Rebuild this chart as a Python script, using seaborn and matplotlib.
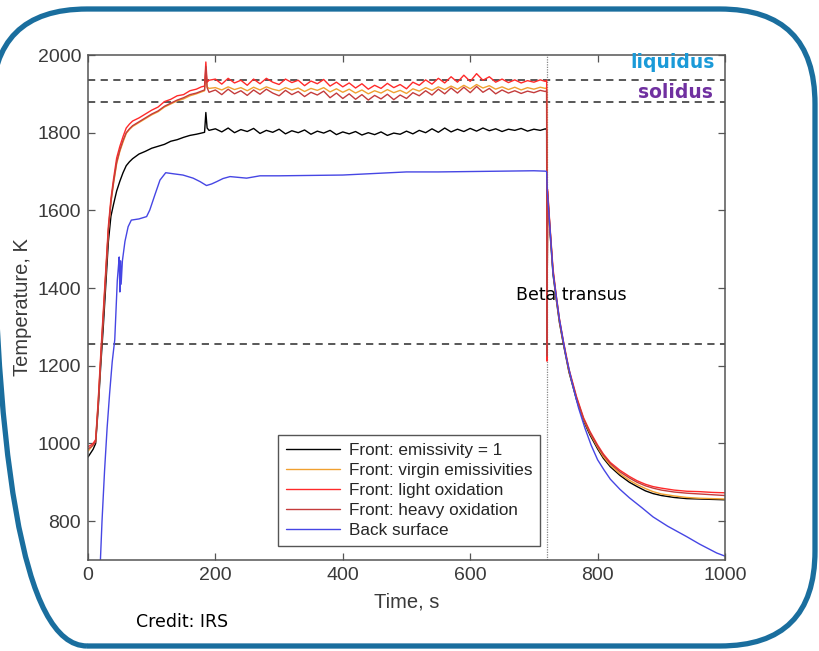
import numpy as np
import pandas as pd
import matplotlib.pyplot as plt
import matplotlib as mpl
import seaborn as sns
from matplotlib.patches import FancyBboxPatch

# time axis shared by the four front-surface series
t_front = [0, 4, 8, 12, 16, 20, 24, 28, 32, 36, 40, 45, 50, 55, 60, 65, 70, 80, 90, 100,
           110, 120, 130, 140, 150, 160, 170, 178, 183, 185, 187, 190,
           200, 210, 220, 230, 240, 250, 260, 270, 280, 290, 300, 310, 320, 330, 340, 350,
           360, 370, 380, 390, 400, 410, 420, 430, 440, 450, 460, 470, 480, 490, 500, 510,
           520, 530, 540, 550, 560, 570, 580, 590, 600, 610, 620, 630, 640, 650, 660, 670,
           680, 690, 700, 710, 718,
           720, 720.5, 721.5, 725, 730, 735, 740, 746, 755, 767, 778, 788, 800, 809, 820,
           835, 850, 862, 875, 887, 900, 920, 940, 960, 980, 1000]

front_black = [965, 975, 985, 1000, 1090, 1200, 1300, 1410, 1520, 1585, 1615, 1650, 1675, 1697, 1715, 1725, 1733, 1745, 1752, 1760,
               1765, 1770, 1778, 1782, 1788, 1793, 1796, 1799, 1801, 1852, 1812, 1806,
               1810, 1802, 1812, 1800, 1808, 1803, 1811, 1798, 1806, 1801, 1809, 1797, 1805, 1800, 1807, 1796,
               1804, 1799, 1806, 1795, 1802, 1797, 1803, 1794, 1800, 1795, 1802, 1793, 1799, 1796, 1804, 1797,
               1806, 1800, 1810, 1801, 1812, 1802, 1809, 1803, 1811, 1804, 1812, 1805, 1810, 1803, 1809, 1806,
               1811, 1804, 1809, 1806, 1810,
               1808, 1215, 1640, 1550, 1435, 1372, 1312, 1258, 1184, 1112, 1058, 1022, 986, 962, 940,
               918, 900, 889, 878, 871, 866, 861, 858, 857, 856, 855]

front_virgin = [980, 988, 996, 1006, 1105, 1220, 1330, 1440, 1550, 1620, 1668, 1720, 1752, 1776, 1798, 1808, 1816, 1826, 1836, 1846,
                1854, 1866, 1874, 1882, 1887, 1895, 1900, 1905, 1908, 1960, 1918, 1914,
                1916, 1910, 1918, 1911, 1916, 1908, 1917, 1910, 1918, 1912, 1908, 1916, 1910, 1915, 1906, 1914,
                1909, 1916, 1905, 1913, 1904, 1912, 1902, 1910, 1900, 1908, 1902, 1911, 1903, 1909, 1901, 1913,
                1907, 1916, 1909, 1918, 1911, 1920, 1912, 1922, 1913, 1924, 1915, 1921, 1912, 1918, 1911, 1917,
                1910, 1916, 1912, 1917, 1914,
                1916, 1218, 1648, 1558, 1442, 1376, 1316, 1262, 1187, 1115, 1061, 1026, 990, 966, 944,
                922, 905, 894, 884, 876, 870, 865, 861, 859, 858, 857]

front_light = [992, 995, 1000, 1010, 1110, 1230, 1340, 1450, 1560, 1630, 1680, 1735, 1765, 1790, 1812, 1822, 1830, 1838, 1848, 1858,
               1866, 1880, 1886, 1895, 1898, 1908, 1912, 1918, 1920, 1982, 1930, 1935,
               1938, 1925, 1940, 1928, 1935, 1922, 1938, 1926, 1940, 1930, 1924, 1938, 1929, 1935, 1921, 1933,
               1926, 1937, 1920, 1930, 1918, 1928, 1915, 1926, 1912, 1922, 1914, 1927, 1916, 1924, 1913, 1930,
               1922, 1936, 1925, 1940, 1928, 1944, 1930, 1948, 1932, 1952, 1935, 1944, 1930, 1938, 1929, 1936,
               1928, 1934, 1930, 1936, 1932,
               1935, 1212, 1655, 1565, 1450, 1382, 1322, 1266, 1192, 1120, 1066, 1031, 996, 973, 951,
               931, 915, 904, 895, 889, 885, 880, 877, 876, 874, 873]

front_heavy = [986, 990, 996, 1004, 1100, 1215, 1325, 1438, 1548, 1622, 1672, 1724, 1755, 1780, 1800, 1810, 1818, 1828, 1838, 1848,
               1856, 1868, 1876, 1884, 1890, 1898, 1902, 1907, 1910, 1970, 1916, 1904,
               1910, 1898, 1912, 1900, 1908, 1896, 1910, 1899, 1912, 1902, 1895, 1909, 1898, 1906, 1893, 1904,
               1897, 1907, 1890, 1902, 1888, 1900, 1886, 1898, 1884, 1896, 1887, 1899, 1885, 1897, 1888, 1903,
               1895, 1908, 1897, 1912, 1900, 1915, 1902, 1917, 1903, 1919, 1904, 1914, 1900, 1910, 1902, 1908,
               1901, 1907, 1903, 1909, 1906,
               1908, 1225, 1650, 1560, 1444, 1378, 1318, 1262, 1189, 1117, 1063, 1028, 993, 970, 948,
               927, 911, 900, 891, 885, 880, 875, 872, 870, 868, 866]

# back surface
t_back = [18, 22, 26, 30, 34, 38, 42, 46, 48, 49, 50, 51, 52, 54, 58, 63, 68, 80, 92, 97,
          105, 113, 122, 135, 149, 165, 176, 186, 194, 202, 212, 223, 236, 249, 270, 300, 350, 400,
          450, 500, 550, 600, 650, 700, 718,
          720, 721, 725, 730, 740, 750, 760, 770, 780, 790, 800, 810, 820, 835, 850, 870, 887,
          910, 940, 960, 987, 1000]
back = [640, 800, 930, 1040, 1130, 1210, 1267, 1420, 1460, 1480, 1390, 1470, 1410, 1470, 1520, 1558, 1575, 1578, 1584, 1601,
        1640, 1678, 1697, 1694, 1691, 1683, 1674, 1664, 1668, 1674, 1682, 1687, 1685, 1683, 1689, 1689, 1690, 1691,
        1695, 1699, 1699, 1700, 1701, 1702, 1701,
        1700, 1650, 1560, 1440, 1320, 1228, 1156, 1092, 1040, 995, 958, 932, 908, 882, 860, 834, 811,
        787, 760, 741, 718, 710]

labels = ['Front: emissivity = 1', 'Front: virgin emissivities', 'Front: light oxidation',
          'Front: heavy oxidation', 'Back surface']
colors = ['#000000', '#f0a030', '#ff2a2a', '#c43c3c', '#4646e4']

liquidus = 1935
solidus = 1878
beta_transus = 1256
t_end_heat = 720

frames = []
for lab, vals in zip(labels[:4], [front_black, front_virgin, front_light, front_heavy]):
    frames.append(pd.DataFrame({'t': t_front, 'T': vals, 'series': lab}))
frames.append(pd.DataFrame({'t': t_back, 'T': back, 'series': labels[4]}))
df = pd.concat(frames, ignore_index=True)

sns.set_style('white')
plt.rcParams['font.family'] = ['Liberation Sans', 'DejaVu Sans']

fig = plt.figure(figsize=(8.19, 6.51), dpi=100)
ax = fig.add_axes([88/819, 1 - 560/651, 637/819, 505/651])

sns.lineplot(data=df, x='t', y='T', hue='series', hue_order=labels,
             palette=dict(zip(labels, colors)), sort=False, estimator=None,
             linewidth=1.0, ax=ax)

for yv in [liquidus, solidus, beta_transus]:
    ax.axhline(yv, color='#4a4a4a', lw=1.3, ls=(0, (4, 3)), zorder=1)
ax.axvline(t_end_heat, color='#888888', lw=0.9, ls=(0, (1, 1)), zorder=1)

ax.set_xlim(0, 1000)
ax.set_ylim(700, 2000)
ax.set_xticks([0, 200, 400, 600, 800, 1000])
ax.set_yticks([800, 1000, 1200, 1400, 1600, 1800, 2000])
ax.tick_params(direction='in', length=5, width=0.9, color='#555555', labelcolor='#3a3a3a',
               labelsize=14, bottom=True, left=True, top=True, right=True, pad=5)
for sp in ax.spines.values():
    sp.set_color('#555555')
    sp.set_linewidth(1.1)
ax.set_xlabel('Time, s', fontsize=14.5, color='#3a3a3a', labelpad=6)
ax.set_ylabel('Temperature, K', fontsize=14.5, color='#3a3a3a', labelpad=4)

handles, _ = ax.get_legend_handles_labels()
leg = ax.legend(handles, labels, loc='lower left', bbox_to_anchor=(0.298, 0.028),
                fontsize=12.3, frameon=True, fancybox=False, framealpha=1,
                edgecolor='#555555', handlelength=3.2, handletextpad=0.5,
                labelspacing=0.3, borderpad=0.45, borderaxespad=0)
leg.get_frame().set_linewidth(1.0)

fig.text(715/819, 1 - 63/651, 'liquidus', color='#1a9ad8', fontsize=13.5, fontweight='bold',
         family='DejaVu Sans', ha='right', va='center')
fig.text(713/819, 1 - 93/651, 'solidus', color='#7030a0', fontsize=13.5, fontweight='bold',
         family='DejaVu Sans', ha='right', va='center')
fig.text(516/819, 1 - 295/651, 'Beta transus', color='black', fontsize=12.5,
         family='DejaVu Sans', ha='left', va='center')
fig.text(136/819, 1 - 622/651, 'Credit: IRS', color='black', fontsize=12.5,
         family='DejaVu Sans', ha='left', va='center')

# rounded blue frame around the slide
frame = FancyBboxPatch((-8, 5), 823, 637, boxstyle='round,pad=0,rounding_size=95',
                       transform=mpl.transforms.IdentityTransform(), fill=False,
                       edgecolor='#1a6e9e', linewidth=3.8, clip_on=False)
fig.patches.append(frame)

fig.savefig('out.png', dpi=100)
